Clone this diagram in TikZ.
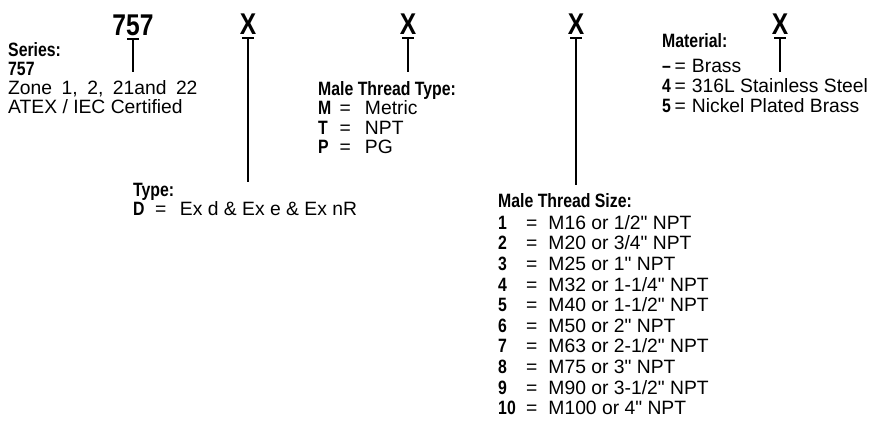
\documentclass[tikz,border=0pt]{standalone}
\usepackage{fontspec}
\setmainfont{Liberation Sans}[Ligatures=TeXOff]
\newfontfamily\condfont[FakeStretch=0.82,Ligatures=TeXOff]{Liberation Sans}
\usetikzlibrary{positioning,arrows.meta}
\newcommand{\lblfont}{\condfont\bfseries}
% option row: key box width, gap after '=', key, value
\newcommand{\opt}[4]{\makebox[#1][l]{\lblfont #3}=\hspace{#2}#4}
\tikzset{
    code/.style={
        font={\fontsize{30}{30}\selectfont\lblfont},
        inner sep=0pt, anchor=base
    },
    block/.style={
        font={\fontsize{19.3}{#1}\selectfont},
        inner sep=0pt, anchor=north west, align=left
    },
    block/.default=20,
    tee/.style={line width=2pt, {Bar[width=12pt]}-}
}
\begin{document}
\begin{tikzpicture}[x=1pt, y=-1pt]
    \useasboundingbox (0,0) rectangle (884,421);

    % Code letters
    \node[code] (c757) at (133,35) {757};
    \node[code] (x1) at (248,34) {X};
    \node[code] (x2) at (408,34) {X};
    \node[code] (x3) at (576,34) {X};
    \node[code] (x4) at (780,34) {X};

    % Descriptions
    \node[block=19] (series) at (8,42)
        {{\lblfont Series:}\\{\lblfont 757}\\{\spaceskip=9.5pt Zone 1, 2, 21and 22}\\ATEX / IEC Certified};
    \node[block=17] (type) at (133,183)
        {{\lblfont Type:}\\\opt{22pt}{13.5pt}{D}{Ex d \& Ex e \& Ex nR}};
    \node[block=19.5] (mtt) at (318,81)
        {{\lblfont Male Thread Type:}\\
         \opt{21.5pt}{14pt}{M}{Metric}\\
         \opt{21.5pt}{14pt}{T}{NPT}\\
         \opt{21.5pt}{14pt}{P}{PG}};
    \node[block=20.6] (size) at (498,193)
        {{\lblfont Male Thread Size:}\\[1.5pt]
         \opt{28pt}{11pt}{1}{M16 or 1/2" NPT}\\
         \opt{28pt}{11pt}{2}{M20 or 3/4" NPT}\\
         \opt{28pt}{11pt}{3}{M25 or 1" NPT}\\
         \opt{28pt}{11pt}{4}{M32 or 1-1/4" NPT}\\
         \opt{28pt}{11pt}{5}{M40 or 1-1/2" NPT}\\
         \opt{28pt}{11pt}{6}{M50 or 2" NPT}\\
         \opt{28pt}{11pt}{7}{M63 or 2-1/2" NPT}\\
         \opt{28pt}{11pt}{8}{M75 or 3" NPT}\\
         \opt{28pt}{11pt}{9}{M90 or 3-1/2" NPT}\\
         \opt{28pt}{11pt}{10}{M100 or 4" NPT}};
    \node[block=20] (mat) at (662,33)
        {{\lblfont Material:}\\[5pt]
         \opt{12.5pt}{6pt}{–}{Brass}\\
         \opt{12.5pt}{6pt}{4}{316L Stainless Steel}\\
         \opt{12.5pt}{6pt}{5}{Nickel Plated Brass}};

    % Line ends
    \coordinate (e757) at (133,72);
    \coordinate (e4) at (780,72);

    % Connectors
    \draw[tee] ([yshift=-3pt]c757.south) -- (e757);
    \draw[tee] ([yshift=-3pt]x1.south) -- ([yshift=1pt]x1.south |- type.north);
    \draw[tee] ([yshift=-3pt]x2.south) -- ([yshift=9pt]x2.south |- mtt.north);
    \draw[tee] ([yshift=-3pt]x3.south) -- ([yshift=8pt]x3.south |- size.north);
    \draw[tee] ([yshift=-3pt]x4.south) -- (e4);

\end{tikzpicture}
\end{document}
